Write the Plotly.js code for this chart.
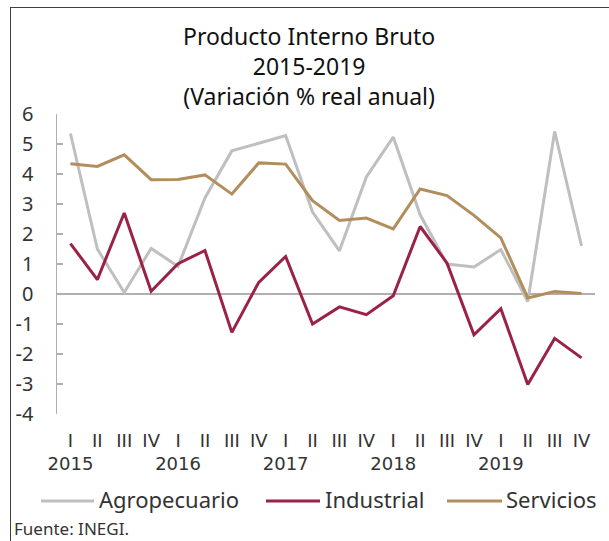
<!DOCTYPE html>
<html>
<head>
<meta charset="utf-8">
<script src="https://cdn.plot.ly/plotly-3.0.1.min.js"></script>
<style>
  html, body { margin: 0; padding: 0; background: #fff; }
  #wrap { position: relative; width: 609px; height: 541px; overflow: hidden; }
  #chart { width: 609px; height: 541px; }
  #frame { position: absolute; left: 10px; top: 7px; width: 620px; height: 560px;
           border-top: 1px solid #404040; border-left: 1px solid #404040; pointer-events: none; }
</style>
</head>
<body>
<div id="wrap">
  <div id="chart"></div>
  <div id="frame"></div>
</div>
<script>
// ---- data ----
const quarters = ["I","II","III","IV","I","II","III","IV","I","II","III","IV","I","II","III","IV","I","II","III","IV"];
const years = ["2015","","","","2016","","","","2017","","","","2018","","","","2019","","",""];
const agropecuario = [5.35, 1.5, 0.05, 1.52, 0.92, 3.2, 4.77, 5.03, 5.28, 2.73, 1.44, 3.9, 5.23, 2.64, 1.0, 0.9, 1.48, -0.25, 5.42, 1.6];
const industrial   = [1.68, 0.48, 2.7, 0.09, 1.01, 1.45, -1.28, 0.39, 1.25, -1.0, -0.43, -0.69, -0.06, 2.25, 1.03, -1.36, -0.49, -3.02, -1.48, -2.13];
const servicios    = [4.34, 4.25, 4.64, 3.81, 3.82, 3.97, 3.33, 4.37, 4.33, 3.11, 2.45, 2.53, 2.17, 3.5, 3.28, 2.62, 1.87, -0.13, 0.08, 0.02];
const seriesNames = ["Agropecuario", "Industrial", "Servicios"];
const yTicks = [-4,-3,-2,-1,0,1,2,3,4,5,6];
const titleLines = ["Producto Interno Bruto", "2015-2019", "(Variación % real anual)"];

// ---- styles ----
const colors = ["#bfbfbf", "#9b2247", "#b38e5d"];
const FONT = "'Noto Sans', 'Open Sans', sans-serif";
const XFONT = "'DejaVu Sans', sans-serif";
const idx = quarters.map((_, i) => i);
const ticktext = quarters.map((q, i) => years[i] ? q + "<br>" + years[i] : q);

const seriesData = [agropecuario, industrial, servicios];
const traces = seriesData.map((ys, k) => ({
  type: "scatter", mode: "lines", x: idx, y: ys, name: seriesNames[k],
  line: { color: colors[k], width: 3 }, showlegend: false, hoverinfo: "skip"
}));

// pixel helpers for layout placement
const L = 57, R = 14, T = 114, B = 127, W = 609, H = 541;
const pw = W - L - R, ph = H - T - B;
const px = x => (x - L) / pw;
const py = y => (H - B - y) / ph;

const annotations = [{
  text: titleLines.join("<br>"), xref: "paper", yref: "paper", x: px(309), y: py(66),
  xanchor: "center", yanchor: "middle", showarrow: false,
  font: { family: FONT, size: 23, color: "#111" }
}];

// legend built from names & colors
const legendLines = [[41, 94, 97], [266, 320, 323], [447, 502, 504]];
const shapes = [];
legendLines.forEach((p, k) => {
  shapes.push({ type: "line", xref: "paper", yref: "paper", x0: px(p[0]), x1: px(p[1]), y0: py(501), y1: py(501),
    line: { color: colors[k], width: 3 } });
  annotations.push({ text: seriesNames[k], xref: "paper", yref: "paper", x: px(p[2]), y: py(499),
    xanchor: "left", yanchor: "middle", showarrow: false, font: { family: FONT, size: 22, color: "#333" } });
});
annotations.push({ text: "Fuente: INEGI.", xref: "paper", yref: "paper", x: px(12), y: py(528),
  xanchor: "left", yanchor: "middle", showarrow: false, font: { family: FONT, size: 17, color: "#333" } });

const layout = {
  width: W, height: H,
  margin: { l: L, r: R, t: T, b: B, pad: 0 },
  paper_bgcolor: "#fff", plot_bgcolor: "#fff",
  font: { family: FONT, color: "#333" },
  xaxis: {
    range: [-0.5, 19.5], tickmode: "array", tickvals: idx, ticktext: ticktext, tickangle: 0,
    showgrid: false, zeroline: false, showline: false, ticks: "",
    tickfont: { family: XFONT, size: 18, color: "#333" }, ticklabelstandoff: 14, fixedrange: true
  },
  yaxis: {
    range: [-4, 6], tickmode: "array", tickvals: yTicks, ticktext: yTicks.map(String),
    showgrid: false, zeroline: true, zerolinecolor: "#b0b0b0", zerolinewidth: 2,
    showline: true, linecolor: "#b0b0b0", linewidth: 1.5,
    ticks: "inside", ticklen: 6, tickcolor: "#b0b0b0", tickwidth: 1.5,
    tickfont: { family: FONT, size: 20, color: "#333" }, ticklabelstandoff: 18, fixedrange: true
  },
  annotations: annotations,
  shapes: shapes
};

Plotly.newPlot("chart", traces, layout, { displayModeBar: false, staticPlot: true });
</script>
</body>
</html>
